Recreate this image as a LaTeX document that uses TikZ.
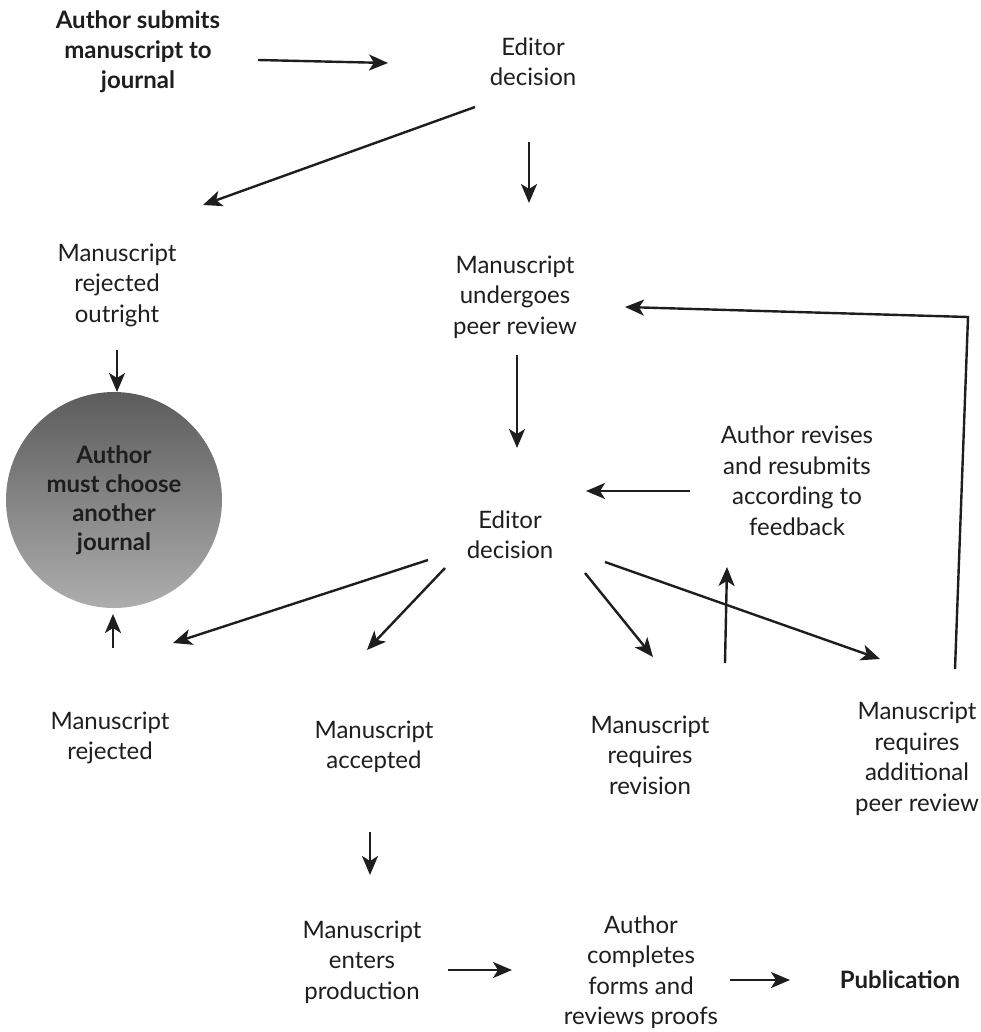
\documentclass[tikz,border=0pt]{standalone}
\usepackage{fontspec}
\setmainfont{Lato}
\usetikzlibrary{arrows.meta,positioning,calc}
\definecolor{ink}{HTML}{1E1E1E}

\begin{document}
\begin{tikzpicture}[x=1pt, y=1pt,
  lbl/.style={align=center, text=ink, inner sep=0pt,
              font=\fontsize{24}{30.5}\selectfont},
  hub/.style={circle, minimum size=216pt, inner sep=0pt, align=center,
              top color=black!64, bottom color=black!32, text=ink,
              font=\fontsize{24}{29}\selectfont\bfseries},
  arr/.style={-{Stealth[length=19pt, width=16pt, inset=5pt]}, ink,
              line width=2.4pt}]
  \useasboundingbox (0,0) rectangle (980,-1032);
  % submission and first decision
  \node[lbl, font=\fontsize{24}{30}\selectfont\bfseries] (start) at (138,-52)
    {Author submits\\manuscript to\\journal};
  \node[lbl] (ed1) at (533,-62) {Editor\\decision};
  \node[lbl] (rejout) at (117,-285) {Manuscript\\rejected\\outright};
  \node[lbl] (review) at (515,-297) {Manuscript\\undergoes\\peer review};
  \node[hub] (other) at (114,-500) {Author\\must choose\\another\\journal};
  % second decision
  \node[lbl] (ed2) at (510,-535) {Editor\\decision};
  \node[lbl] (revise) at (797,-481)
    {Author revises\\and resubmits\\according to\\feedback};
  \node[lbl] (rej) at (110,-738) {Manuscript\\rejected};
  \node[lbl] (acc) at (374,-747) {Manuscript\\accepted};
  \node[lbl] (revreq) at (650,-755) {Manuscript\\requires\\revision};
  \node[lbl] (more) at (917,-759)
    {Manuscript\\requires\\additional\\peer review};
  % production
  \node[lbl] (prod) at (362,-962) {Manuscript\\enters\\production};
  \node[lbl] (proofs) at (641,-972)
    {Author\\completes\\forms and\\reviews proofs};
  \node[lbl, font=\fontsize{24}{30}\selectfont\bfseries] (pub) at (900,-980)
    {Publication};

  \draw[arr] ([shift={(120,-8)}]start.center) -- ([shift={(-145,-1)}]ed1.center);
  \draw[arr] ([shift={(-58,-45)}]ed1.center) -- ([shift={(86,80)}]rejout.center);
  \draw[arr] ([shift={(-4,-80)}]ed1.center) -- ([shift={(14,94)}]review.center);
  \draw[arr] ([shift={(0,-65)}]rejout.center) -- ([shift={(3,108)}]other.center);
  \draw[arr] ([shift={(2,-58)}]review.center) -- ([shift={(7,87)}]ed2.center);
  \draw[arr] ([shift={(-107,-10)}]revise.center) -- ([shift={(76,44)}]ed2.center);
  \draw[arr] ([shift={(-82,-25)}]ed2.center) -- ([shift={(63,95)}]rej.center);
  \draw[arr] ([shift={(3,90)}]rej.center) -- ([shift={(-1,-114)}]other.center);
  \draw[arr] ([shift={(-65,-33)}]ed2.center) -- ([shift={(-7,97)}]acc.center);
  \draw[arr] ([shift={(75,-38)}]ed2.center) -- ([shift={(3,98)}]revreq.center);
  \draw[arr] ([shift={(75,92)}]revreq.center) -- ([shift={(-70,-86)}]revise.center);
  \draw[arr] ([shift={(95,-27)}]ed2.center) -- ([shift={(-37,100)}]more.center);
  \draw[arr] ([shift={(38,90)}]more.center) -- ([shift={(453,-20)}]review.center)
    -- ([shift={(110,-10)}]review.center);
  \draw[arr] ([shift={(-4,-85)}]acc.center) -- ([shift={(8,87)}]prod.center);
  \draw[arr] ([shift={(86,-8)}]prod.center) -- ([shift={(-129,2)}]proofs.center);
  \draw[arr] ([shift={(89,-8)}]proofs.center) -- ([shift={(-110,0)}]pub.center);
\end{tikzpicture}
\end{document}
